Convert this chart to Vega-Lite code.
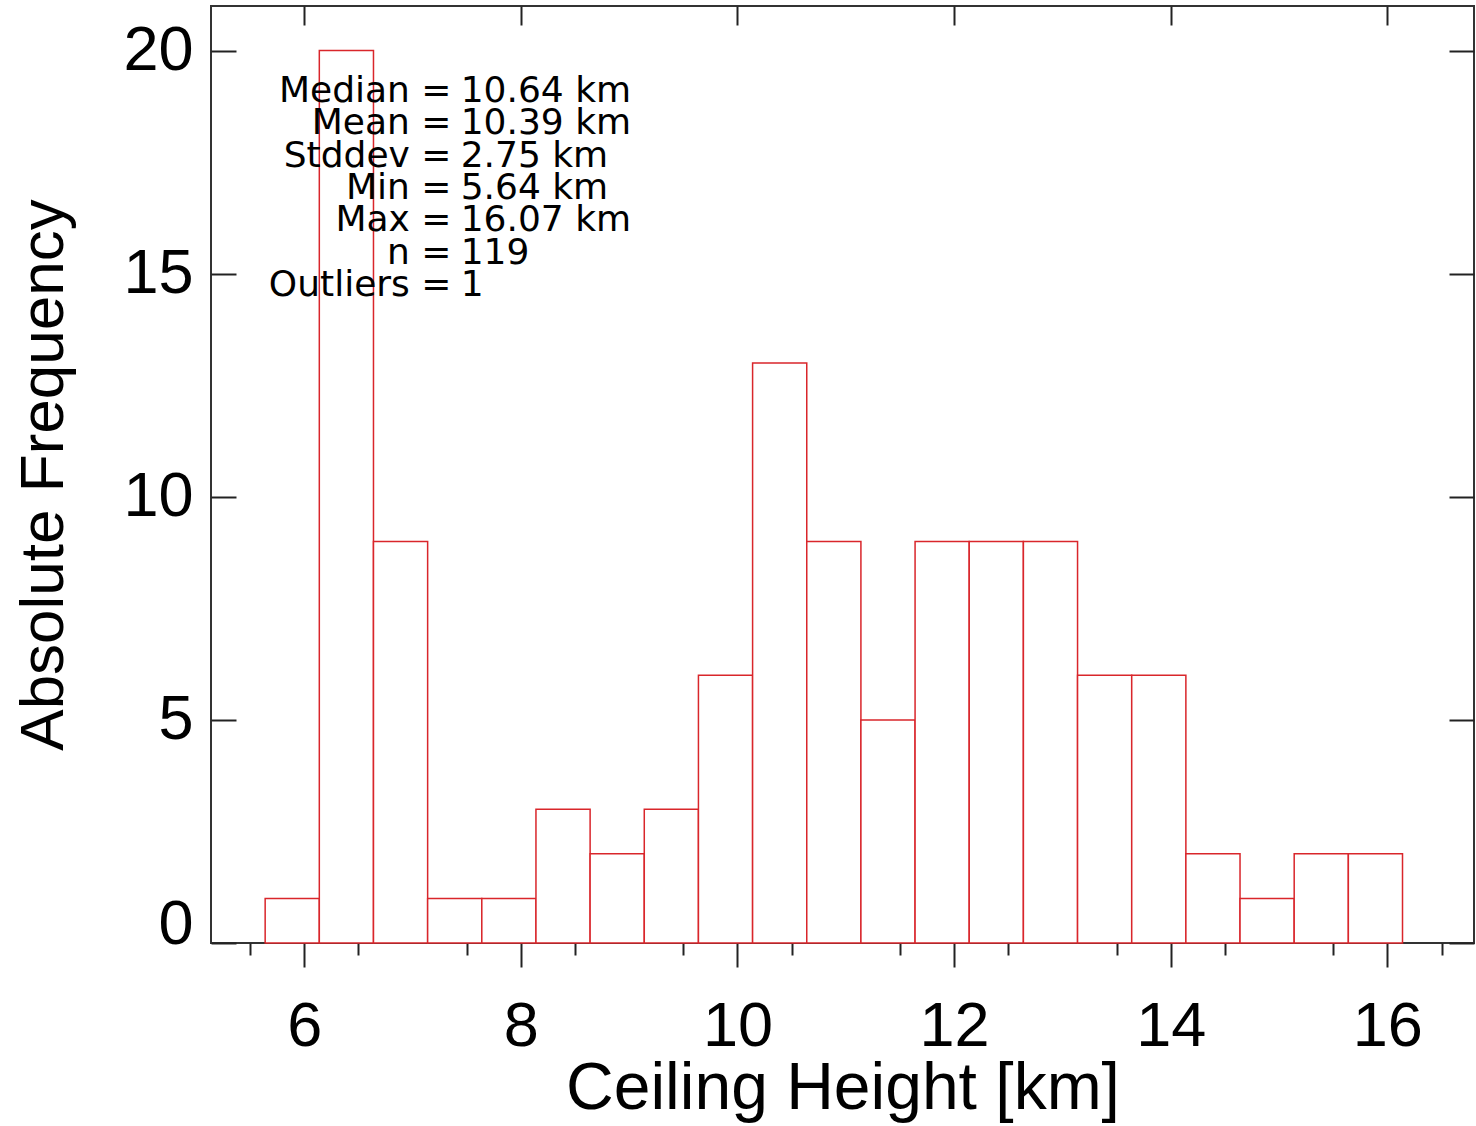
{
  "$schema": "https://vega.github.io/schema/vega-lite/v6.json",
  "width": 1263,
  "height": 937,
  "autosize": "none",
  "padding": {"left": 211, "top": 6, "right": 2, "bottom": 183},
  "background": "white",
  "config": {
    "view": {"stroke": "#333333", "strokeWidth": 2},
    "axis": {
      "grid": false,
      "domain": false,
      "tickColor": "#222222",
      "tickWidth": 2,
      "labelColor": "#000000",
      "titleColor": "#000000",
      "labelFont": "Liberation Sans",
      "titleFont": "Liberation Sans",
      "titleFontWeight": "normal",
      "labelFlush": false
    }
  },
  "datasets": {
    "bins": [
      {"x0": 5.64, "x1": 6.14, "count": 1},
      {"x0": 6.14, "x1": 6.64, "count": 20},
      {"x0": 6.64, "x1": 7.14, "count": 9},
      {"x0": 7.14, "x1": 7.64, "count": 1},
      {"x0": 7.64, "x1": 8.14, "count": 1},
      {"x0": 8.14, "x1": 8.64, "count": 3},
      {"x0": 8.64, "x1": 9.14, "count": 2},
      {"x0": 9.14, "x1": 9.64, "count": 3},
      {"x0": 9.64, "x1": 10.14, "count": 6},
      {"x0": 10.14, "x1": 10.64, "count": 13},
      {"x0": 10.64, "x1": 11.14, "count": 9},
      {"x0": 11.14, "x1": 11.64, "count": 5},
      {"x0": 11.64, "x1": 12.14, "count": 9},
      {"x0": 12.14, "x1": 12.64, "count": 9},
      {"x0": 12.64, "x1": 13.14, "count": 9},
      {"x0": 13.14, "x1": 13.64, "count": 6},
      {"x0": 13.64, "x1": 14.14, "count": 6},
      {"x0": 14.14, "x1": 14.64, "count": 2},
      {"x0": 14.64, "x1": 15.14, "count": 1},
      {"x0": 15.14, "x1": 15.64, "count": 2},
      {"x0": 15.64, "x1": 16.14, "count": 2}
    ],
    "stats": [
      {"label": "Median =", "value": "10.64 km"},
      {"label": "Mean =", "value": "10.39 km"},
      {"label": "Stddev =", "value": "2.75 km"},
      {"label": "Min =", "value": "5.64 km"},
      {"label": "Max =", "value": "16.07 km"},
      {"label": "n =", "value": "119"},
      {"label": "Outliers =", "value": "1"}
    ]
  },
  "layer": [
    {
      "data": {"name": "bins"},
      "mark": {"type": "rect", "fill": "white", "stroke": "#d9262b", "strokeWidth": 1.5},
      "encoding": {
        "x": {
          "field": "x0", "type": "quantitative",
          "scale": {"domain": [5.14, 16.8], "nice": false, "zero": false},
          "axis": {
            "orient": "bottom",
            "values": [6, 8, 10, 12, 14, 16],
            "tickSize": 24,
            "labelFontSize": 63,
            "labelBaseline": "alphabetic",
            "labelPadding": 78,
            "title": "Ceiling Height [km]",
            "titleFontSize": 66,
            "titleBaseline": "alphabetic",
            "titleY": 165
          }
        },
        "x2": {"field": "x1"},
        "y": {
          "field": "count", "type": "quantitative",
          "scale": {"domain": [0, 21], "nice": false, "zero": false},
          "axis": {
            "orient": "left",
            "values": [0, 5, 10, 15, 20],
            "ticks": false,
            "labelFontSize": 63,
            "labelPadding": 18,
            "labelBaseline": {"condition": {"test": "datum.value === 0", "value": "alphabetic"}, "value": "middle"},
            "title": "Absolute Frequency",
            "titleFontSize": 62,
            "titleAngle": -90,
            "titleBaseline": "alphabetic",
            "titleX": -149,
            "titleY": 468.5
          }
        },
        "y2": {"datum": 0}
      }
    },
    {
      "data": {"name": "bins"},
      "mark": {"type": "rect", "opacity": 0},
      "encoding": {
        "x": {
          "field": "x0", "type": "quantitative",
          "scale": {"domain": [5.14, 16.8], "nice": false, "zero": false},
          "axis": {
            "orient": "bottom",
            "values": [5.5, 6.5, 7.5, 8.5, 9.5, 10.5, 11.5, 12.5, 13.5, 14.5, 15.5, 16.5],
            "tickSize": 12,
            "labels": false,
            "title": null
          }
        },
        "x2": {"field": "x1"},
        "y": {
          "field": "count", "type": "quantitative",
          "scale": {"domain": [0, 21], "nice": false, "zero": false},
          "axis": {
            "orient": "left",
            "values": [0, 5, 10, 15, 20],
            "tickSize": -25,
            "labels": false,
            "title": null
          }
        },
        "y2": {"datum": 0}
      }
    },
    {
      "data": {"name": "bins"},
      "mark": {"type": "rect", "opacity": 0},
      "encoding": {
        "x": {
          "field": "x0", "type": "quantitative",
          "scale": {"domain": [5.14, 16.8], "nice": false, "zero": false},
          "axis": {
            "orient": "top",
            "values": [6, 8, 10, 12, 14, 16],
            "tickSize": -19,
            "labels": false,
            "title": null
          }
        },
        "x2": {"field": "x1"},
        "y": {
          "field": "count", "type": "quantitative",
          "scale": {"domain": [0, 21], "nice": false, "zero": false},
          "axis": {
            "orient": "right",
            "values": [0, 5, 10, 15, 20],
            "tickSize": -25,
            "labels": false,
            "title": null
          }
        },
        "y2": {"datum": 0}
      }
    },
    {
      "data": {"name": "stats"},
      "mark": {"type": "text", "font": "DejaVu Sans", "fontSize": 36, "align": "right", "baseline": "alphabetic", "color": "#000000"},
      "encoding": {
        "x": {"datum": 7.36, "type": "quantitative", "scale": {"domain": [5.14, 16.8], "nice": false, "zero": false}, "axis": null},
        "y": {"field": "label", "type": "ordinal", "sort": null, "scale": {"type": "point", "range": [96, 290], "padding": 0}, "axis": null},
        "text": {"field": "label"}
      }
    },
    {
      "data": {"name": "stats"},
      "mark": {"type": "text", "font": "DejaVu Sans", "fontSize": 36, "align": "left", "baseline": "alphabetic", "color": "#000000"},
      "encoding": {
        "x": {"datum": 7.445, "type": "quantitative", "scale": {"domain": [5.14, 16.8], "nice": false, "zero": false}, "axis": null},
        "y": {"field": "label", "type": "ordinal", "sort": null, "scale": {"type": "point", "range": [96, 290], "padding": 0}, "axis": null},
        "text": {"field": "value"}
      }
    }
  ],
  "resolve": {
    "axis": {"x": "independent", "y": "independent"},
    "scale": {"y": "independent"}
  }
}
